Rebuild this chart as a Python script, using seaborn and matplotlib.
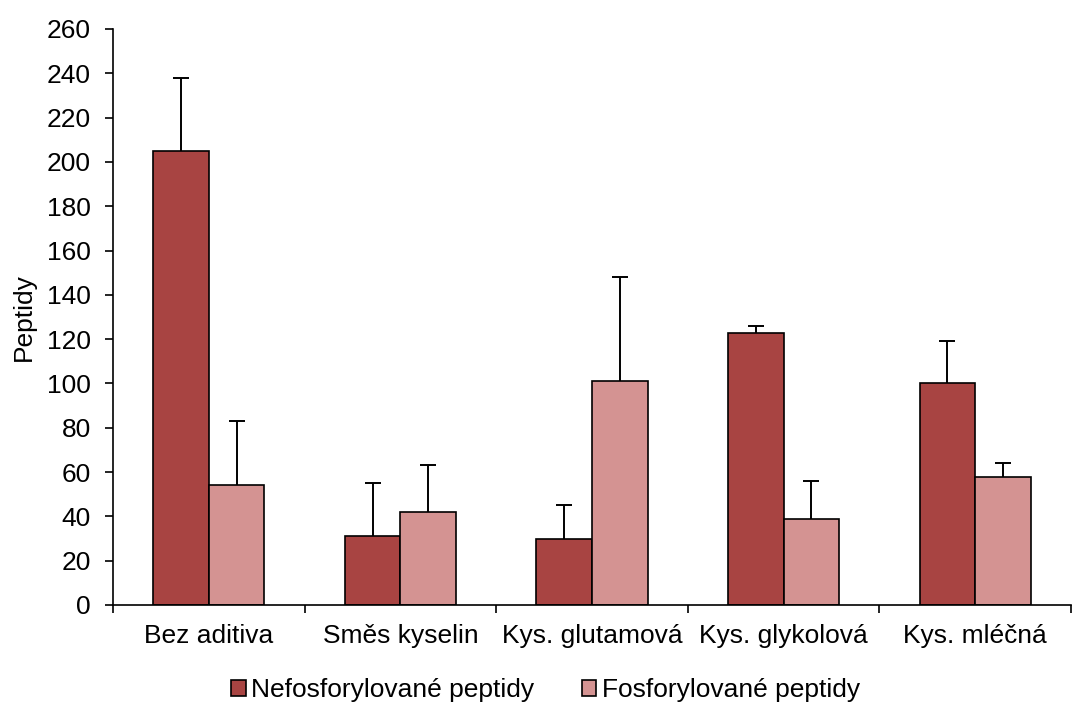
import matplotlib
matplotlib.use("Agg")
import matplotlib.pyplot as plt
import seaborn as sns
import pandas as pd
import numpy as np

categories = ["Bez aditiva", "Směs kyselin", "Kys. glutamová", "Kys. glykolová", "Kys. mléčná"]
series_names = ["Nefosforylované peptidy", "Fosforylované peptidy"]
nefos = [205, 31, 30, 123, 100]
nefos_err = [33, 24, 15, 3, 19]
fos = [54, 42, 101, 39, 58]
fos_err = [29, 21, 47, 17, 6]
colors = ["#A84442", "#D49392"]
yticks = list(range(0, 261, 20))

sns.set_theme(style="white")
plt.rcParams["font.family"] = ["Liberation Sans", "DejaVu Sans"]
plt.rcParams["text.color"] = "black"
plt.rcParams["axes.labelcolor"] = "black"
plt.rcParams["xtick.color"] = "black"
plt.rcParams["ytick.color"] = "black"

FS = 19

df = pd.DataFrame({
    "cat": categories * 2,
    "series": [series_names[0]] * 5 + [series_names[1]] * 5,
    "val": nefos + fos,
})

fig = plt.figure(figsize=(10.72, 7.04), dpi=100)
ax = fig.add_axes([113/1072, 1 - 605/704, (1071 - 113)/1072, (605 - 29)/704])
sns.barplot(data=df, x="cat", y="val", hue="series", palette=colors, width=0.58,
            edgecolor="black", linewidth=1.2, errorbar=None, ax=ax, saturation=1)

# upper-only error bars from patch positions
errs = [nefos_err, fos_err]
vals = [nefos, fos]
bar_containers = list(ax.containers)
for ci, cont in enumerate(bar_containers):
    xs = [p.get_x() + p.get_width() / 2 for p in cont.patches]
    eb = ax.errorbar(xs, vals[ci], yerr=[np.zeros(5), errs[ci]], fmt="none",
                     ecolor="black", elinewidth=1.4, capsize=6, capthick=1.4)
    caps = eb[1]
    if len(caps) > 1:
        caps[0].remove()

ax.set_xlim(-0.5, 4.5)
ax.set_ylim(0, 260)
ax.set_yticks(yticks)
ax.set_yticklabels([str(t) for t in yticks], fontsize=FS)
ax.set_ylabel("Peptidy", fontsize=FS, labelpad=8)
ax.set_xlabel("")
ax.set_xticks(range(5))
ax.set_xticklabels(categories, fontsize=FS)
ax.set_xticks(np.arange(-0.5, 5.0, 1.0), minor=True)
ax.tick_params(axis="x", which="major", length=0, pad=14)
ax.tick_params(axis="x", which="minor", length=6, width=1.2, color="black", direction="out", bottom=True)
ax.tick_params(axis="y", length=6, width=1.2, color="black", direction="out", left=True, pad=10)
for s in ["top", "right"]:
    ax.spines[s].set_visible(False)
for s in ["left", "bottom"]:
    ax.spines[s].set_color("black")
    ax.spines[s].set_linewidth(1.2)

ax.legend(loc="center", bbox_to_anchor=(0.4515, -0.1476), ncol=2, frameon=False,
          fontsize=FS, handlelength=0.55, handleheight=0.55, handletextpad=0.2,
          columnspacing=1.8, borderaxespad=0)

fig.savefig("out.png", dpi=100)
